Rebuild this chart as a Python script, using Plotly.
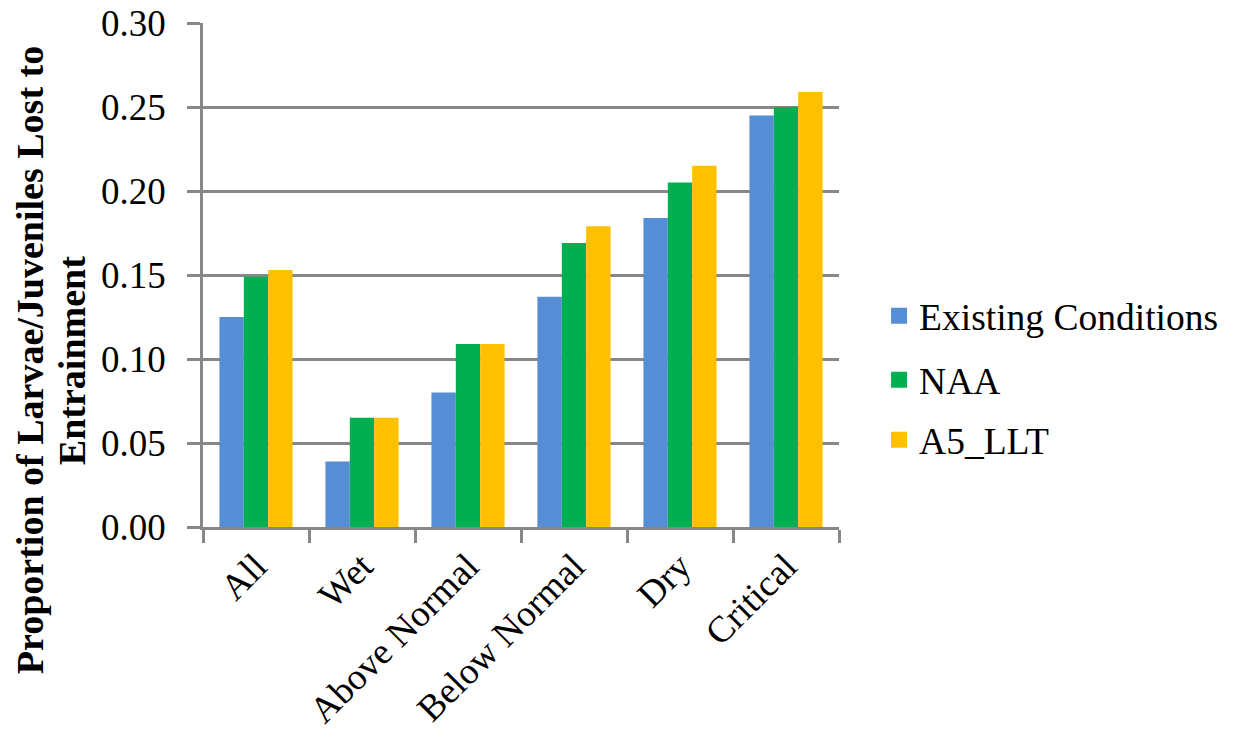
import plotly.graph_objects as go

categories = ["All", "Wet", "Above Normal", "Below Normal", "Dry", "Critical"]
existing = [0.125, 0.039, 0.080, 0.137, 0.184, 0.245]
naa = [0.149, 0.065, 0.109, 0.169, 0.205, 0.250]
a5_llt = [0.153, 0.065, 0.109, 0.179, 0.215, 0.259]

series_names = ["Existing Conditions", "NAA", "A5_LLT"]
series_values = [existing, naa, a5_llt]
colors = ["#558ED5", "#00B050", "#FFC000"]
y_title_lines = ["Proportion of Larvae/Juveniles Lost to", "Entrainment"]

FONT = "Liberation Serif"
GRID = "#878787"

fig = go.Figure()
for name, vals, col in zip(series_names, series_values, colors):
    fig.add_trace(go.Bar(x=categories, y=vals, name=name, marker_color=col,
                         marker_line_width=0, showlegend=False))

legend_ids = ["legend", "legend2", "legend3"]
legend_y = [0.419, 0.292, 0.173]
for name, col, lid in zip(series_names, colors, legend_ids):
    fig.add_trace(go.Scatter(x=[None], y=[None], mode="markers", name=name, legend=lid,
                             marker=dict(symbol="square", size=22, color=col)))

legend_common = dict(x=1.063, xanchor="left", yanchor="middle",
                     font=dict(family=FONT, size=37.5, color="black"),
                     bgcolor="rgba(0,0,0,0)", borderwidth=0)

fig.update_layout(
    width=1243, height=740,
    margin=dict(l=203, r=404, t=23, b=213, autoexpand=False),
    paper_bgcolor="white", plot_bgcolor="white",
    barmode="group", bargap=0.31, bargroupgap=0,
    font=dict(family=FONT, size=36, color="black"),
    legend=dict(y=legend_y[0], **legend_common),
    legend2=dict(y=legend_y[1], **legend_common),
    legend3=dict(y=legend_y[2], **legend_common),
    showlegend=True,
)
fig.update_xaxes(
    type="category", showline=True, linecolor=GRID, linewidth=2.5,
    ticks="outside", tickson="boundaries", ticklen=13, tickwidth=2.5, tickcolor=GRID,
    tickangle=-45, tickfont=dict(family=FONT, size=37, color="black"), showgrid=False,
    automargin=False,
)
fig.update_yaxes(
    range=[0, 0.30], dtick=0.05, tickformat=".2f",
    showline=True, linecolor=GRID, linewidth=2.5,
    ticks="outside", ticklen=13, tickwidth=2.5, tickcolor=GRID,
    ticklabelstandoff=14,
    showgrid=True, gridcolor=GRID, gridwidth=2.5, zeroline=False,
    tickfont=dict(family=FONT, size=37, color="black"), automargin=False,
)
for line, xpos in zip(y_title_lines, [-0.272, -0.206]):
    fig.add_annotation(
        text="<b>" + line + "</b>",
        xref="paper", yref="paper", x=xpos, y=0.331,
        xanchor="center", yanchor="middle", textangle=-90, showarrow=False,
        font=dict(family=FONT, size=38, color="black"),
    )
fig.write_html("out.html")
